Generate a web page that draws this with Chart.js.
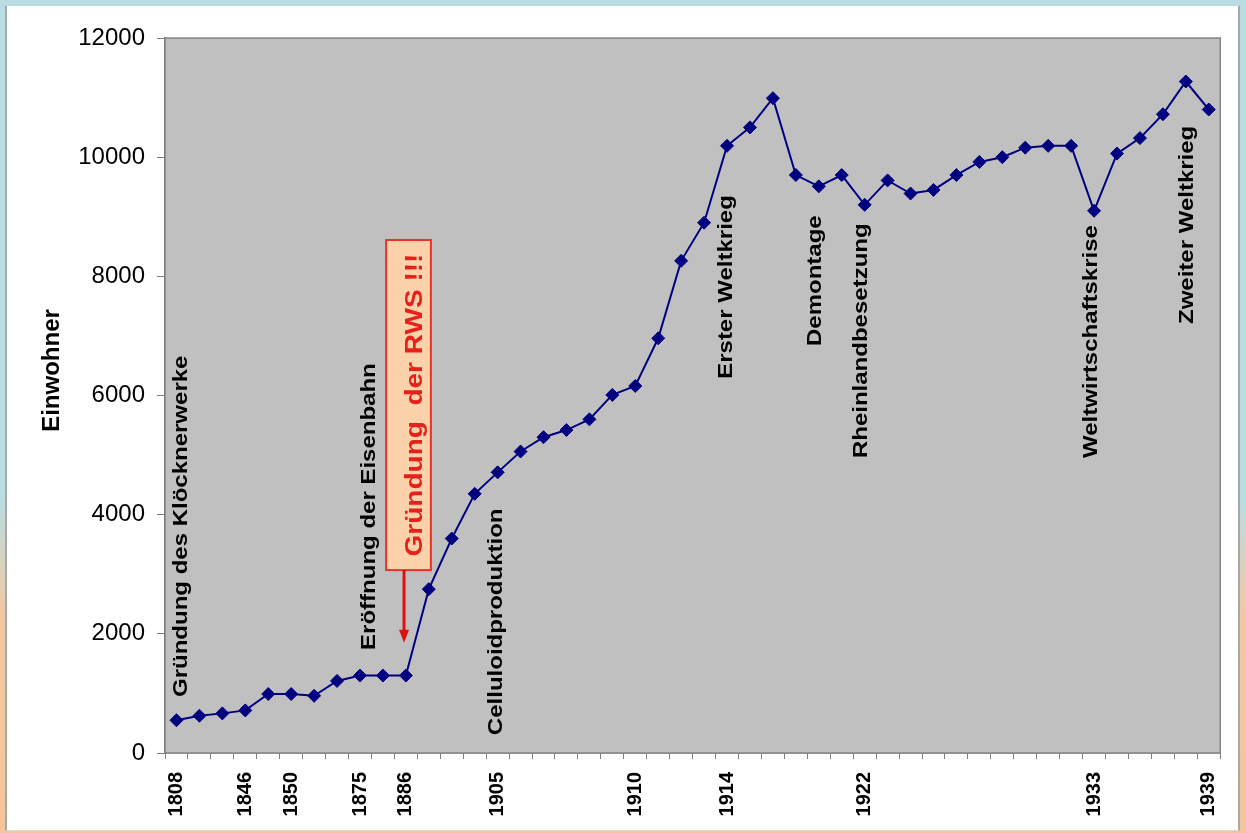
<!DOCTYPE html>
<html>
<head>
<meta charset="utf-8">
<script src="https://cdn.jsdelivr.net/npm/chart.js@4.4.0/dist/chart.umd.min.js"></script>
<style>
  html, body { margin: 0; padding: 0; }
  body {
    width: 1246px; height: 833px; overflow: hidden; position: relative;
    background: linear-gradient(to bottom, #b9dde1 0%, #b9dde1 60%, #f2c8a3 74%, #f5c59a 100%);
  }
  #panel {
    position: absolute; left: 5px; top: 6px; width: 1231px; height: 824px;
    background: #fff; border-left: 2px solid #a8a8a8; border-right: 2px solid #a8a8a8;
    border-bottom: 1px solid #dcdcdc;
  }
  #wrap { position: absolute; left: 0; top: 0; width: 1246px; height: 833px; }
</style>
</head>
<body>
<div id="panel"></div>
<div id="wrap"><canvas id="chart" width="1246" height="833"></canvas></div>
<script>
  // ─── DATA ─────────────────────────────────────────────────────
  const CATEGORIES = [
    '1808', '', '', '1846', '', '1850', '', '', '1875', '', '1886',
    '', '', '', '1905', '', '', '', '', '', '1910', '', '', '',
    '1914', '', '', '', '', '', '1922', '', '', '', '', '', '', '', '', '',
    '1933', '', '', '', '', '1939'
  ];
  const EINWOHNER = [
    550, 625, 665, 715, 990, 990, 960, 1210, 1300, 1300, 1300,
    2750, 3600, 4350, 4710, 5060, 5300, 5420, 5600, 6010, 6160,
    6960, 8260, 8900, 10190, 10500, 10990, 9700, 9510, 9700, 9200,
    9610, 9390, 9450, 9700, 9920, 10000, 10160, 10190, 10190, 9100,
    10060, 10320, 10720, 11270, 10800
  ];
  const Y_TICKS = [0, 2000, 4000, 6000, 8000, 10000, 12000];

  // Ereignisse (text, anchored at its lower end: category index / value)
  const EREIGNISSE = [
    'Gründung des Klöcknerwerke', 'Eröffnung der Eisenbahn', 'Celluloidproduktion',
    'Erster Weltkrieg', 'Demontage', 'Rheinlandbesetzung',
    'Weltwirtschaftskrise', 'Zweiter Weltkrieg'
  ];
  const EREIGNIS_AT  = [0.2, 8.38, 13.94, 23.95, 27.85, 29.84, 39.88, 44.05];
  const EREIGNIS_VON = [940, 1730, 300, 6280, 6830, 4950, 4950, 7200];

  // RWS box + arrow (category index / value)
  const RWS_TEXT = 'Gründung  der RWS !!!';
  const RWS_BOX  = { x0: 9.14, x1: 11.09, y0: 3070, y1: 8610, textAt: 10.4 };
  const RWS_PFEIL = { at: 9.92, tip: 1850 };

  const FONT = "'Liberation Sans', Arial, sans-serif";

  // ─── HELPERS ──────────────────────────────────────────────────
  function vText(ctx, txt, x, y, size, color, align) {
    ctx.save();
    ctx.translate(x, y);
    ctx.scale(0.88, 1);
    ctx.rotate(-Math.PI / 2);
    ctx.font = 'bold ' + size + 'px ' + FONT;
    ctx.fillStyle = color;
    ctx.textAlign = align || 'left';
    ctx.textBaseline = 'middle';
    ctx.fillText(txt, 0, 0);
    ctx.restore();
  }

  // ─── PLUGIN: plot background, notes, axis title ──────────────
  const notesPlugin = {
    id: 'notes',
    beforeDatasetsDraw(chart) {
      const { ctx, chartArea: a, scales: { x, y } } = chart;
      ctx.save();
      ctx.fillStyle = '#c0c0c0';
      ctx.fillRect(a.left, a.top, a.width, a.height);
      ctx.strokeStyle = '#858585';
      ctx.lineWidth = 1.5;
      ctx.strokeRect(a.left, a.top, a.width, a.height);
      ctx.restore();

      EREIGNISSE.forEach((t, i) => {
        vText(ctx, t, x.getPixelForValue(EREIGNIS_AT[i]), y.getPixelForValue(EREIGNIS_VON[i]), 24, '#000');
      });

      // RWS box
      const bx0 = x.getPixelForValue(RWS_BOX.x0), bx1 = x.getPixelForValue(RWS_BOX.x1);
      const by0 = y.getPixelForValue(RWS_BOX.y0), by1 = y.getPixelForValue(RWS_BOX.y1);
      ctx.save();
      ctx.fillStyle = '#fcd2ab';
      ctx.fillRect(bx0, by1, bx1 - bx0, by0 - by1);
      ctx.strokeStyle = '#e8322a';
      ctx.lineWidth = 2;
      ctx.strokeRect(bx0, by1, bx1 - bx0, by0 - by1);
      ctx.restore();
      vText(ctx, RWS_TEXT, x.getPixelForValue(RWS_BOX.textAt), (by0 + by1) / 2, 28, '#e8201a', 'center');

      // arrow
      const ax = x.getPixelForValue(RWS_PFEIL.at);
      const tip = y.getPixelForValue(RWS_PFEIL.tip);
      ctx.save();
      ctx.strokeStyle = '#e01010';
      ctx.fillStyle = '#e01010';
      ctx.lineWidth = 3;
      ctx.beginPath();
      ctx.moveTo(ax, by0);
      ctx.lineTo(ax, tip - 12);
      ctx.stroke();
      ctx.beginPath();
      ctx.moveTo(ax - 5, tip - 13);
      ctx.lineTo(ax + 5, tip - 13);
      ctx.lineTo(ax, tip);
      ctx.closePath();
      ctx.fill();
      ctx.restore();
    },
    afterDraw(chart) {
      const { ctx, chartArea: a } = chart;
      ctx.save();
      ctx.translate(a.left - 113, (a.top + a.bottom) / 2 - 25);
      ctx.rotate(-Math.PI / 2);
      ctx.font = 'bold 24px ' + FONT;
      ctx.fillStyle = '#000';
      ctx.textAlign = 'center';
      ctx.textBaseline = 'middle';
      ctx.fillText('Einwohner', 0, 0);
      ctx.restore();
    }
  };

  // ─── BUILD CHART ──────────────────────────────────────────────
  new Chart(document.getElementById('chart').getContext('2d'), {
    type: 'line',
    data: {
      labels: CATEGORIES,
      datasets: [{
        label: 'Einwohner',
        data: EINWOHNER,
        borderColor: '#000080',
        borderWidth: 2,
        backgroundColor: '#000080',
        pointStyle: 'rectRot',
        pointRadius: 6.5,
        pointBackgroundColor: '#000080',
        pointBorderColor: '#000080',
        pointBorderWidth: 1,
        tension: 0,
        fill: false,
      }],
    },
    options: {
      responsive: false,
      devicePixelRatio: 1,
      animation: false,
      layout: { padding: { left: 65, top: 38, right: 21, bottom: 0 } },
      plugins: { legend: { display: false }, tooltip: { enabled: false } },
      scales: {
        x: {
          type: 'category',
          offset: true,
          grid: { offset: true, drawOnChartArea: false, drawTicks: true, tickLength: 6, color: '#808080' },
          border: { display: true, color: '#606060', width: 1.5 },
          ticks: {
            autoSkip: false, maxRotation: 90, minRotation: 90, padding: 13,
            color: '#000', font: { family: FONT, size: 20, weight: 'bold' },
          },
          afterFit(s) { s.height = 80; },
        },
        y: {
          min: Y_TICKS[0],
          max: Y_TICKS[Y_TICKS.length - 1],
          afterBuildTicks(s) { s.ticks = Y_TICKS.map(v => ({ value: v })); },
          grid: { drawOnChartArea: false, drawTicks: true, tickLength: 8, color: '#808080' },
          border: { display: true, color: '#606060', width: 1.5 },
          ticks: {
            padding: 12, color: '#000', font: { family: FONT, size: 24 },
            callback: (v) => String(v),
          },
          afterFit(s) { s.width = 100; },
        },
      },
    },
    plugins: [notesPlugin],
  });
</script>
</body>
</html>
